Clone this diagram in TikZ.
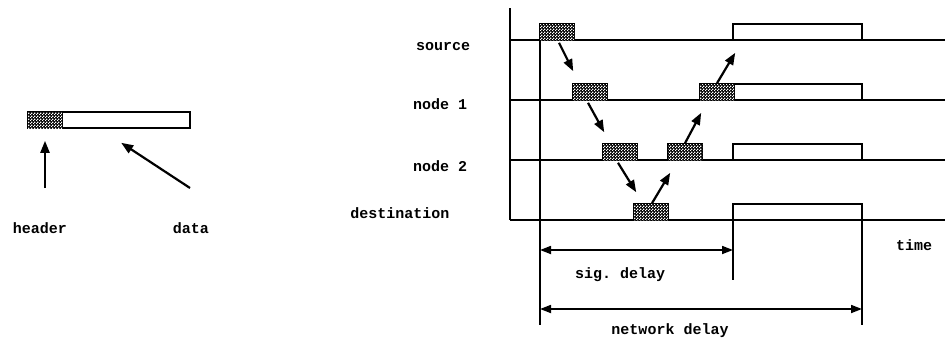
\documentclass[tikz,border=0pt]{standalone}
\usepackage{fontspec}
\setmonofont{Liberation Mono}
\usetikzlibrary{arrows.meta,patterns,calc}
% fine checkerboard used as the header screen
\pgfdeclarepatternformonly{checker}{\pgfpointorigin}{\pgfpoint{3pt}{3pt}}{\pgfpoint{3pt}{3pt}}{%
  \pgfpathrectangle{\pgfpointorigin}{\pgfpoint{1.5pt}{1.5pt}}%
  \pgfpathrectangle{\pgfpoint{1.5pt}{1.5pt}}{\pgfpoint{1.5pt}{1.5pt}}%
  \pgfusepath{fill}}
\tikzset{
  lbl/.style={font=\fontsize{15}{15}\selectfont\ttfamily\bfseries, inner sep=0pt},
  thk/.style={line width=1.7pt},
  hdr/.style={draw, line width=1.6pt, fill=black, inner sep=0pt,
    minimum width=34pt, minimum height=16pt,
    postaction={pattern=checker, pattern color=white}},
  dbox/.style={draw, line width=1.6pt, fill=white, inner sep=0pt,
    minimum width=129pt, minimum height=16pt},
  sig/.style={line width=2.2pt, -{Triangle[length=12pt,width=9pt]}},
  dim/.style={line width=1.7pt, {Triangle[length=11pt,width=8pt]}-{Triangle[length=11pt,width=8pt]}}
}
\begin{document}
\begin{tikzpicture}[x=1pt,y=-1pt]
\useasboundingbox (0,0) rectangle (947,340);

% ---- packet layout legend ----
\node[draw, line width=1.6pt, inner sep=0pt, minimum width=128pt, minimum height=16pt] (ldata) at (126,120) {};
\node[hdr] (lhdr) at (45,120) {};
\coordinate (hfoot) at (45,188);
\coordinate (dfoot) at (190,188);
\draw[sig] (hfoot) -- ($(lhdr.south)+(0,12)$);
\draw[sig] (dfoot) -- ($(ldata.south west)+(60,14)$);
\node[lbl] (thdr) at (40,228) {header};
\node[lbl] (tdat) at (191,228) {data};

% ---- time axis and station lines ----
\coordinate (axtop) at (510,8);
\coordinate (axbot) at (510,220);
\draw[thk] (axtop) -- (axbot);
\foreach \n/\y in {s/40, a/100, b/160, d/220} {
  \coordinate (l\n) at (510,\y);
  \coordinate (r\n) at (945,\y);
  \draw[thk] (l\n) -- (r\n);
}
\node[lbl] (tsrc) at (443,47) {source};
\node[lbl] (tn1) at (440,104) {node 1};
\node[lbl] (tn2) at (440,166) {node 2};
\node[lbl] (tdst) at (400,213) {destination};
\node[lbl] (ttime) at (914,245) {time};

% ---- reference verticals ----
\coordinate (v0a) at (540,40);
\coordinate (v0b) at (540,325);
\coordinate (v1a) at (733,220);
\coordinate (v1b) at (733,280);
\coordinate (v2a) at (862,220);
\coordinate (v2b) at (862,325);
\draw[thk] (v0a) -- (v0b);
\draw[thk] (v1a) -- (v1b);
\draw[thk] (v2a) -- (v2b);

% ---- data bodies ----
\node[dbox] (d0) at (797.5,32) {};
\node[dbox] (d1) at (797.5,92) {};
\node[dbox] (d2) at (797.5,152) {};
\node[dbox] (d3) at (797.5,212) {};

% ---- headers travelling out and back ----
\node[hdr] (p0) at (557,32) {};
\node[hdr] (p1) at (590,92) {};
\node[hdr] (p2) at (620,152) {};
\node[hdr] (p3) at (651,212) {};
\node[hdr] (q2) at (685,152) {};
\node[hdr] (q1) at (717,92) {};

\draw[sig] ($(p0.south)+(2,2)$) -- ($(p1.north west)+(1,-12)$);
\draw[sig] ($(p1.south)+(-2,2)$) -- ($(p2.north west)+(2,-11)$);
\draw[sig] ($(p2.south)+(-2,2)$) -- ($(p3.north west)+(3,-11)$);
\draw[sig] ($(p3.north)+(1,0)$) -- ($(q2.south west)+(3,12)$);
\draw[sig] (q2.north) -- ($(q1.south west)+(2,12)$);
\draw[sig] (q1.north) -- ($(d0.south west)+(3,12)$);

% ---- delay dimensions ----
\coordinate (s0) at (540,250);
\coordinate (s1) at (733,250);
\coordinate (n0) at (540,309);
\coordinate (n1) at (862,309);
\draw[dim] (s0) -- (s1);
\draw[dim] (n0) -- (n1);
\node[lbl] (tsig) at (620,275) {sig. delay};
\node[lbl] (tnet) at (670,331) {network delay};
\end{tikzpicture}
\end{document}
